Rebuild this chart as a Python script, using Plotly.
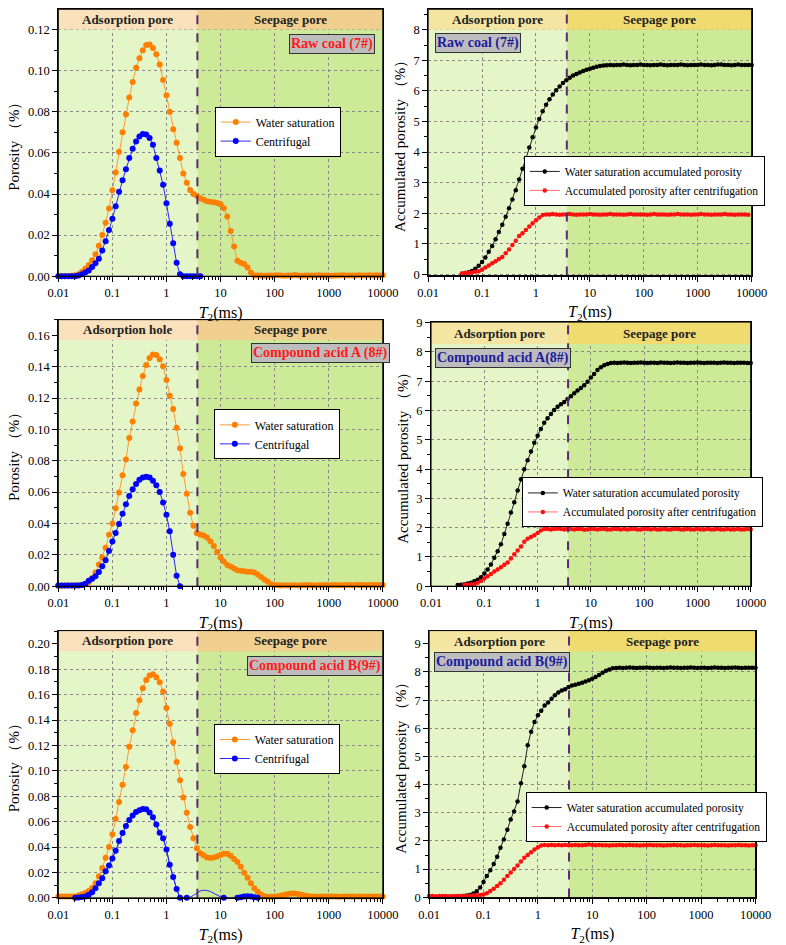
import math
import plotly.graph_objects as go

FONT = "Liberation Serif"

# ---------------- data ----------------
MANTISSA = [1.0, 1.15, 1.33, 1.54, 1.78, 2.05, 2.37, 2.74, 3.16, 3.65, 4.22, 4.87, 5.62, 6.49, 7.5, 8.66]
T2 = [round(m * 10.0 ** e, 6) for e in range(-2, 4) for m in MANTISSA] + [10000.0]
CUTOFF = 3.73  # ms, adsorption / seepage boundary

X_TICKS = [0.01, 0.1, 1, 10, 100, 1000, 10000]
X_TICKTEXT = ["0.01", "0.1", "1", "10", "100", "1000", "10000"]

# Raw coal (7#) - porosity
P1_WATER = [0.0, 0.0, 0.0, 0.0, 0.0002, 0.0005, 0.0010, 0.0022, 0.0036, 0.0055,
            0.0078, 0.0107, 0.0148, 0.0200, 0.0260, 0.0330, 0.0418, 0.0505, 0.0606, 0.0700,
            0.0787, 0.0870, 0.0945, 0.1014, 0.1060, 0.1100, 0.1125, 0.1128, 0.1110, 0.1080,
            0.1030, 0.0955, 0.0880, 0.0800, 0.0715, 0.0650, 0.0575, 0.0500, 0.0455, 0.0420,
            0.0400, 0.0392, 0.0380, 0.0372, 0.0365, 0.0362, 0.0360, 0.0356, 0.0350, 0.0331,
            0.0290, 0.0220, 0.0145, 0.0075, 0.0066, 0.0059, 0.0043, 0.0018, 0.0004, 0.0003,
            0.0003, 0.0002, 0.0004, 0.0003, 0.0003, 0.0005, 0.0003, 0.0002, 0.0004, 0.0003,
            0.0006, 0.0003, 0.0002, 0.0003, 0.0004, 0.0003, 0.0003, 0.0005, 0.0004, 0.0003,
            0.0003, 0.0002, 0.0004, 0.0003, 0.0005, 0.0004, 0.0004, 0.0003, 0.0004, 0.0005,
            0.0004, 0.0004, 0.0005, 0.0004, 0.0005, 0.0004, 0.0005]
P1_CENT_START = 0
P1_CENT = [0.0, 0.0, 0.0, 0.0, 0.0, 0.0, 0.0003, 0.0010, 0.0018, 0.0028,
           0.0045, 0.0063, 0.0085, 0.0125, 0.0170, 0.0225, 0.0280, 0.0340, 0.0411, 0.0467,
           0.0520, 0.0575, 0.0620, 0.0655, 0.0680, 0.0692, 0.0690, 0.0672, 0.0640, 0.0575,
           0.0515, 0.0445, 0.0355, 0.0255, 0.0160, 0.0065, 0.0010, 0.0, 0.0, 0.0,
           0.0, 0.0, 0.0]

# Raw coal (7#) - accumulated porosity
P2_WATER_START = 10
P2_WATER = [0.02, 0.04, 0.07, 0.11, 0.18, 0.28, 0.40, 0.55, 0.74, 0.93,
            1.15, 1.38, 1.62, 1.88, 2.16, 2.45, 2.75, 3.10, 3.45, 3.80,
            4.15, 4.48, 4.80, 5.08, 5.33, 5.55, 5.73, 5.88, 6.02, 6.14,
            6.26, 6.35, 6.43, 6.50, 6.55, 6.60, 6.65, 6.69, 6.72, 6.76,
            6.79, 6.81, 6.83, 6.84, 6.85, 6.84, 6.85, 6.85, 6.86, 6.85,
            6.84, 6.85, 6.85, 6.86, 6.85, 6.85, 6.84, 6.85, 6.85, 6.86,
            6.85, 6.84, 6.85, 6.85, 6.85, 6.86, 6.85, 6.84, 6.85, 6.85,
            6.85, 6.86, 6.85, 6.85, 6.84, 6.85, 6.86, 6.86, 6.85, 6.85,
            6.84, 6.85, 6.86, 6.85, 6.85, 6.85, 6.85]
P2_CENT_START = 10
P2_CENT = [0.03, 0.04, 0.05, 0.06, 0.08, 0.10, 0.15, 0.22, 0.29, 0.36,
           0.43, 0.50, 0.57, 0.69, 0.81, 0.96, 1.10, 1.25, 1.34, 1.45,
           1.56, 1.67, 1.77, 1.86, 1.94, 1.96, 1.96, 1.97, 1.96, 1.95,
           1.96, 1.96, 1.97, 1.96, 1.95, 1.96, 1.96, 1.96, 1.97, 1.96,
           1.96, 1.95, 1.96, 1.96, 1.97, 1.96, 1.96, 1.96, 1.95, 1.96,
           1.97, 1.96, 1.96, 1.96, 1.96, 1.95, 1.96, 1.97, 1.96, 1.96,
           1.96, 1.95, 1.96, 1.96, 1.97, 1.96, 1.96, 1.96, 1.95, 1.96,
           1.96, 1.97, 1.96, 1.96, 1.95, 1.96, 1.96, 1.96, 1.97, 1.96,
           1.96, 1.95, 1.96, 1.96, 1.96, 1.95]

# Compound acid A (8#) - porosity
P3_WATER = [0.0003, 0.0003, 0.0003, 0.0004, 0.0004, 0.0005, 0.0006, 0.0008, 0.0012, 0.0025,
            0.0052, 0.0087, 0.0138, 0.0183, 0.0245, 0.0328, 0.0400, 0.0497, 0.0598, 0.0708,
            0.0808, 0.0945, 0.1050, 0.1165, 0.1255, 0.1340, 0.1410, 0.1455, 0.1478, 0.1475,
            0.1447, 0.1402, 0.1315, 0.1215, 0.1130, 0.1010, 0.0880, 0.0715, 0.0590, 0.0468,
            0.0385, 0.0338, 0.0329, 0.0323, 0.0310, 0.0287, 0.0257, 0.0219, 0.0183, 0.0158,
            0.0135, 0.0125, 0.0113, 0.0102, 0.0098, 0.0096, 0.0093, 0.0093, 0.0087, 0.0075,
            0.0058, 0.0043, 0.0028, 0.0013, 0.0007, 0.0006, 0.0005, 0.0006, 0.0005, 0.0006,
            0.0006, 0.0005, 0.0006, 0.0006, 0.0007, 0.0006, 0.0005, 0.0006, 0.0006, 0.0007,
            0.0006, 0.0006, 0.0007, 0.0006, 0.0006, 0.0007, 0.0007, 0.0006, 0.0007, 0.0007,
            0.0007, 0.0006, 0.0007, 0.0008, 0.0007, 0.0007, 0.0008]
P3_CENT_START = 0
P3_CENT = [0.0004, 0.0004, 0.0004, 0.0004, 0.0004, 0.0004, 0.0005, 0.0007, 0.0015, 0.0035,
           0.0048, 0.0063, 0.0090, 0.0127, 0.0166, 0.0225, 0.0285, 0.0340, 0.0396, 0.0462,
           0.0522, 0.0576, 0.0618, 0.0652, 0.0679, 0.0694, 0.0698, 0.0693, 0.0673, 0.0644,
           0.0601, 0.0534, 0.0455, 0.0350, 0.0200, 0.0067, 0.0]

# Compound acid A (8#) - accumulated porosity
P4_WATER_START = 8
P4_WATER = [0.04, 0.05,
            0.07, 0.09, 0.12, 0.17, 0.22, 0.31, 0.43, 0.57, 0.74, 0.97,
            1.19, 1.43, 1.78, 2.13, 2.52, 2.87, 3.27, 3.65, 3.99, 4.30,
            4.60, 4.90, 5.14, 5.37, 5.58, 5.74, 5.88, 6.02, 6.13, 6.21,
            6.29, 6.39, 6.49, 6.59, 6.68, 6.77, 6.86, 6.98, 7.13, 7.25,
            7.38, 7.48, 7.55, 7.59, 7.62, 7.63, 7.62, 7.63, 7.64, 7.63,
            7.62, 7.63, 7.63, 7.64, 7.63, 7.62, 7.63, 7.63, 7.62, 7.64,
            7.63, 7.63, 7.62, 7.63, 7.64, 7.63, 7.63, 7.62, 7.63, 7.63,
            7.64, 7.63, 7.62, 7.63, 7.63, 7.63, 7.62, 7.63, 7.64, 7.63,
            7.63, 7.62, 7.63, 7.63, 7.63, 7.62, 7.62]
P4_CENT_START = 10
P4_CENT = [0.05, 0.05, 0.06, 0.07, 0.12, 0.18, 0.26, 0.34, 0.42, 0.50,
           0.57, 0.65, 0.73, 0.81, 0.95, 1.09, 1.22, 1.36, 1.52, 1.62,
           1.68, 1.74, 1.82, 1.90, 1.95, 1.95, 1.94, 1.95, 1.96, 1.95,
           1.94, 1.95, 1.95, 1.94, 1.95, 1.95, 1.93, 1.94, 1.95, 1.95,
           1.94, 1.95, 1.95, 1.94, 1.94, 1.95, 1.95, 1.94, 1.95, 1.94,
           1.95, 1.95, 1.94, 1.94, 1.95, 1.95, 1.94, 1.95, 1.94, 1.94,
           1.95, 1.94, 1.94, 1.95, 1.95, 1.94, 1.94, 1.95, 1.94, 1.94,
           1.95, 1.94, 1.94, 1.95, 1.94, 1.94, 1.95, 1.94, 1.94, 1.95,
           1.94, 1.94, 1.95, 1.94, 1.94, 1.95, 1.94]

# Compound acid B (9#) - porosity
P5_WATER = [0.0010, 0.0010, 0.0010, 0.0010, 0.0010, 0.0010, 0.0018, 0.0028, 0.0038, 0.0055,
            0.0078, 0.0115, 0.0170, 0.0235, 0.0315, 0.0400, 0.0500, 0.0620, 0.0755, 0.0890,
            0.1030, 0.1190, 0.1320, 0.1455, 0.1555, 0.1650, 0.1715, 0.1750, 0.1760, 0.1737,
            0.1698, 0.1625, 0.1495, 0.1370, 0.1225, 0.1070, 0.0925, 0.0790, 0.0670, 0.0558,
            0.0470, 0.0390, 0.0352, 0.0335, 0.0318, 0.0313, 0.0318, 0.0326, 0.0338, 0.0347,
            0.0347, 0.0332, 0.0305, 0.0282, 0.0245, 0.0198, 0.0158, 0.0115, 0.0075, 0.0048,
            0.0027, 0.0012, 0.0008, 0.0008, 0.0010, 0.0012, 0.0018, 0.0024, 0.0030, 0.0034,
            0.0034, 0.0031, 0.0025, 0.0018, 0.0012, 0.0010, 0.0010, 0.0009, 0.0010, 0.0010,
            0.0011, 0.0010, 0.0010, 0.0009, 0.0010, 0.0010, 0.0011, 0.0010, 0.0010, 0.0010,
            0.0011, 0.0010, 0.0010, 0.0011, 0.0010, 0.0010, 0.0010]
P5_CENT_START = 5
P5_CENT = [0.0, 0.0003, 0.0006, 0.0010, 0.0025,
           0.0045, 0.0075, 0.0115, 0.0155, 0.0210, 0.0255, 0.0310, 0.0370, 0.0447, 0.0510,
           0.0565, 0.0612, 0.0648, 0.0675, 0.0690, 0.0700, 0.0697, 0.0672, 0.0635, 0.0577,
           0.0512, 0.0470, 0.0380, 0.0260, 0.0165, 0.0070, 0.0, 0.0, 0.0, 0.0005,
           0.0020, 0.0040, 0.0055, 0.0060, 0.0058, 0.0050, 0.0035, 0.0020, 0.0008, 0.0,
           0.0, 0.0, 0.0, 0.0, 0.0005, 0.0010, 0.0012, 0.0010, 0.0005, 0.0]
# grid indices of P5 centrifugal points drawn as line only (no marker)
P5_CENT_NOMARK = [37, 39, 40, 41, 42, 43, 44, 45, 46, 47, 48, 50, 51, 52]

# Compound acid B (9#) - accumulated porosity
P6_WATER_START = 9
P6_WATER = [0.04,
            0.05, 0.06, 0.08, 0.13, 0.21, 0.35, 0.54, 0.76, 0.96, 1.18,
            1.44, 1.76, 2.05, 2.40, 2.76, 3.05, 3.40, 4.05, 4.65, 5.40,
            5.88, 6.22, 6.46, 6.62, 6.81, 6.92, 7.05, 7.17, 7.27, 7.34,
            7.39, 7.47, 7.52, 7.55, 7.58, 7.62, 7.66, 7.71, 7.76, 7.82,
            7.89, 7.97, 8.04, 8.09, 8.13, 8.14, 8.15, 8.14, 8.15, 8.16,
            8.15, 8.14, 8.15, 8.15, 8.16, 8.15, 8.14, 8.15, 8.15, 8.14,
            8.15, 8.16, 8.15, 8.15, 8.14, 8.15, 8.15, 8.16, 8.15, 8.14,
            8.15, 8.15, 8.14, 8.15, 8.16, 8.15, 8.15, 8.14, 8.15, 8.15,
            8.16, 8.15, 8.14, 8.15, 8.15, 8.15, 8.15]
P6_CENT_START = 0
P6_CENT = [0.05, 0.05, 0.04, 0.05, 0.05, 0.05, 0.04, 0.05, 0.05, 0.05,
           0.05, 0.05, 0.05, 0.06, 0.07, 0.08, 0.10, 0.14, 0.22, 0.30,
           0.40, 0.50, 0.62, 0.76, 0.88, 1.00, 1.13, 1.27, 1.40, 1.50,
           1.60, 1.70, 1.78, 1.84, 1.86, 1.85, 1.86, 1.85, 1.86, 1.85,
           1.86, 1.85, 1.85, 1.86, 1.85, 1.85, 1.86, 1.87, 1.86, 1.85,
           1.86, 1.85, 1.85, 1.84, 1.85, 1.85, 1.86, 1.85, 1.85, 1.86,
           1.85, 1.85, 1.84, 1.85, 1.85, 1.86, 1.85, 1.85, 1.85, 1.84,
           1.85, 1.85, 1.86, 1.85, 1.85, 1.84, 1.85, 1.85, 1.86, 1.85,
           1.85, 1.85, 1.84, 1.85, 1.86, 1.85, 1.85, 1.85, 1.84, 1.85,
           1.85, 1.86, 1.85, 1.85, 1.84, 1.85, 1.85]

LABELS = ["Raw coal (7#)", "Raw coal (7#)", "Compound acid A (8#)", "Compound acid A(8#)",
          "Compound acid B(9#)", "Compound acid B(9#)"]
HEAD_LEFT = ["Adsorption pore", "Adsorption pore", "Adsorption hole", "Adsorption pore",
             "Adsorption pore", "Adsorption pore"]
HEAD_RIGHT = ["Seepage pore"] * 6
LEFT_NAMES = ["Water saturation", "Centrifugal"]
RIGHT_NAMES = ["Water saturation accumulated porosity", "Accumulated porosity after centrifugation"]

# ---------------- layout geometry (pixels of a 786x945 canvas) ----------------
W, H = 786, 945
GEOM = [
    dict(x=(49, 385), y=(3.3, 274.0), yr=(0, 0.1299), hb=0.1200, dt=0.02, kind="L"),
    dict(x=(432, 767), y=(3.3, 273.3), yr=(-0.04, 8.67), hb=8.0, dt=1, kind="R"),
    dict(x=(49, 385), y=(318.0, 588.3), yr=(0, 0.170), hb=0.157, dt=0.02, kind="L"),
    dict(x=(435, 766), y=(320.5, 588.3), yr=(0, 9.02), hb=8.27, dt=1, kind="R"),
    dict(x=(49, 385), y=(633.3, 904.3), yr=(0, 0.2104), hb=0.1941, dt=0.02, kind="L"),
    dict(x=(433, 771), y=(633.3, 904.0), yr=(-0.01, 9.47), hb=8.73, dt=1, kind="R"),
]
LABEL_POS = [(332, 39), (484, 38), (320, 352), (509, 357), (315, 669), (508, 665)]
LEGEND_POS = [(211, 102), (531, 152), (210, 409), (529, 478), (210, 728), (533, 797)]
LEGEND_FONT = {"L": 12, "R": 11.5}
LEGEND_SIZE = {"L": (126, 46), "R": (236, 45)}

BG_LEFT, BG_RIGHT = "#e4f5c7", "#cdea98"
HEAD_COLORS = {"L": ("#f8e1bb", "#f1cf8e"), "R": ("#f4e6a2", "#efdb70")}

MINOR_X = [m * 10.0 ** e for e in range(-2, 4) for m in range(2, 10)]

fig = go.Figure()
cut_frac = (math.log10(CUTOFF) + 2) / 6.0


def seg(start, values):
    return T2[start:start + len(values)], values


series = [
    ((0, P1_WATER), (P1_CENT_START, P1_CENT)),
    ((P2_WATER_START, P2_WATER), (P2_CENT_START, P2_CENT)),
    ((0, P3_WATER), (P3_CENT_START, P3_CENT)),
    ((P4_WATER_START, P4_WATER), (P4_CENT_START, P4_CENT)),
    ((0, P5_WATER), (P5_CENT_START, P5_CENT)),
    ((P6_WATER_START, P6_WATER), (P6_CENT_START, P6_CENT)),
]

shapes = []
annotations = []
layout_axes = {}

for k, g in enumerate(GEOM):
    n = k + 1
    sx = "" if n == 1 else str(n)
    xa, ya = "x" + sx, "y" + sx
    leg = "legend" + sx
    left = g["kind"] == "L"
    (s1, v1), (s2, v2) = series[k]
    x1, y1 = seg(s1, v1)
    x2, y2 = seg(s2, v2)
    if left:
        c1, c1l, c2, c2l, ms, names = "#ff8000", "#ff9a33", "#0000ff", "#2a2aff", 6, LEFT_NAMES
    else:
        c1, c1l, c2, c2l, ms, names = "#000000", "#222222", "#ff1010", "#ff7070", 4.5, RIGHT_NAMES

    fig.add_trace(go.Scatter(x=x1, y=y1, mode="lines+markers", name=names[0], xaxis=xa, yaxis=ya,
                             legend=leg, line=dict(color=c1l, width=1),
                             marker=dict(color=c1, size=ms), cliponaxis=False))
    if n == 5:
        fig.add_trace(go.Scatter(x=x2, y=y2, mode="lines", showlegend=False, xaxis=xa, yaxis=ya,
                                 line=dict(color=c2l, width=1), hoverinfo="skip"))
        ymark = [None if (s2 + i) in P5_CENT_NOMARK else v for i, v in enumerate(y2)]
        fig.add_trace(go.Scatter(x=x2, y=ymark, mode="lines+markers", name=names[1], xaxis=xa, yaxis=ya,
                                 legend=leg, connectgaps=False, line=dict(color=c2l, width=1),
                                 marker=dict(color=c2, size=ms), cliponaxis=False))
    else:
        fig.add_trace(go.Scatter(x=x2, y=y2, mode="lines+markers", name=names[1], xaxis=xa, yaxis=ya,
                                 legend=leg, line=dict(color=c2l, width=1),
                                 marker=dict(color=c2, size=ms), cliponaxis=False))

    dom_x = [g["x"][0] / W, g["x"][1] / W]
    dom_y = [1 - g["y"][1] / H, 1 - g["y"][0] / H]
    ymin, ymax = g["yr"]
    if left:
        ytv = [round(i * g["dt"], 2) for i in range(0, int(ymax / g["dt"] + 1e-6) + 1)]
        ytt = ["%.2f" % v for v in ytv]
    else:
        ytv = list(range(0, int(ymax + 1e-6) + 1))
        ytt = [str(v) for v in ytv]

    layout_axes["xaxis" + sx] = dict(
        type="log", domain=dom_x, range=[-2, 4], anchor=ya,
        tickmode="array", tickvals=X_TICKS, ticktext=X_TICKTEXT,
        ticks="outside", ticklen=5, tickcolor="black", tickwidth=1,
        showline=True, mirror=True, linecolor="black", linewidth=1,
        showgrid=True, gridcolor="#8a8a8a", griddash="dot", gridwidth=1, zeroline=False,
        minor=dict(tickmode="array", tickvals=MINOR_X, ticks="outside", ticklen=3,
                   tickcolor="black", showgrid=False),
        tickfont=dict(family=FONT, size=12.5, color="black"),
        title=dict(text="<i>T</i><sub>2</sub>(ms)", font=dict(family=FONT, size=16, color="black"),
                   standoff=7),
    )
    layout_axes["yaxis" + sx] = dict(
        domain=dom_y, range=[ymin, ymax], anchor=xa,
        tickmode="array", tickvals=ytv, ticktext=ytt,
        ticks="outside", ticklen=5, tickcolor="black", tickwidth=1,
        showline=True, mirror=True, linecolor="black", linewidth=1,
        showgrid=True, gridcolor="#8a8a8a", griddash="dot", gridwidth=1, zeroline=False,
        minor=dict(tickmode="linear", tick0=0, dtick=g["dt"] / 2, ticks="outside", ticklen=3,
                   tickcolor="black", showgrid=False),
        tickfont=dict(family=FONT, size=12.5, color="black"),
        title=dict(text=("Porosity （%）" if left else "Accumulated porosity （%）"),
                   font=dict(family=FONT, size=15, color="black"), standoff=4),
    )

    xd, yd = xa + " domain", ya + " domain"
    hb_frac = (g["hb"] - ymin) / (ymax - ymin)
    # background zones (under grid)
    shapes.append(dict(type="rect", xref=xd, yref=yd, x0=0, x1=cut_frac, y0=0, y1=1,
                       fillcolor=BG_LEFT, line=dict(width=0), layer="below"))
    shapes.append(dict(type="rect", xref=xd, yref=yd, x0=cut_frac, x1=1, y0=0, y1=1,
                       fillcolor=BG_RIGHT, line=dict(width=0), layer="below"))
    # header band (covers grid)
    hl, hr = HEAD_COLORS[g["kind"]]
    shapes.append(dict(type="rect", xref=xd, yref=yd, x0=0, x1=cut_frac, y0=hb_frac, y1=1,
                       fillcolor=hl, line=dict(width=0), layer="above"))
    shapes.append(dict(type="rect", xref=xd, yref=yd, x0=cut_frac, x1=1, y0=hb_frac, y1=1,
                       fillcolor=hr, line=dict(width=0), layer="above"))
    # boundary line
    shapes.append(dict(type="line", xref=xd, yref=yd, x0=cut_frac, x1=cut_frac, y0=0, y1=1,
                       line=dict(color="#5a2a70", width=2, dash="dash"), layer="above"))
    # frame on top
    shapes.append(dict(type="rect", xref=xd, yref=yd, x0=0, x1=1, y0=0, y1=1,
                       fillcolor="rgba(0,0,0,0)", line=dict(color="black", width=1), layer="above"))
    ymid = (hb_frac + 1) / 2
    annotations.append(dict(xref=xd, yref=yd, x=cut_frac / 2, y=ymid, text="<b>" + HEAD_LEFT[k] + "</b>",
                            showarrow=False, xanchor="center", yanchor="middle",
                            font=dict(family=FONT, size=13, color="#222")))
    annotations.append(dict(xref=xd, yref=yd, x=(cut_frac + 1) / 2, y=ymid, text="<b>" + HEAD_RIGHT[k] + "</b>",
                            showarrow=False, xanchor="center", yanchor="middle",
                            font=dict(family=FONT, size=13, color="#222")))
    lx, ly = LABEL_POS[k]
    annotations.append(dict(xref="paper", yref="paper", x=lx / W, y=1 - ly / H, xanchor="center",
                            yanchor="middle", showarrow=False,
                            text="<b>" + LABELS[k] + "</b>",
                            font=dict(family=FONT, size=14, color=("#ff1a1a" if left else "#1c1c9c")),
                            bgcolor="#bdbdbd", bordercolor="#333333", borderwidth=1, borderpad=1))
    # legend with shadow
    gx, gy = LEGEND_POS[k]
    lw, lh = LEGEND_SIZE[g["kind"]]
    shapes.append(dict(type="rect", xref="paper", yref="paper", x0=(gx + 4) / W, x1=(gx + lw + 4) / W,
                       y0=1 - (gy + lh + 4) / H, y1=1 - (gy + 4) / H, fillcolor="black",
                       line=dict(width=0), layer="above"))
    layout_axes["legend" + sx] = dict(
        x=gx / W, y=1 - gy / H, xanchor="left", yanchor="top", bgcolor="white",
        bordercolor="black", borderwidth=1,
        font=dict(family=FONT, size=LEGEND_FONT[g["kind"]], color="black"),
        tracegroupgap=0, itemwidth=30)

fig.update_layout(
    width=W, height=H, margin=dict(l=0, r=0, t=0, b=0),
    paper_bgcolor="white", plot_bgcolor="white",
    font=dict(family=FONT, size=12, color="black"),
    shapes=shapes, annotations=annotations, showlegend=True,
    **layout_axes,
)

fig.write_html("out.html")
